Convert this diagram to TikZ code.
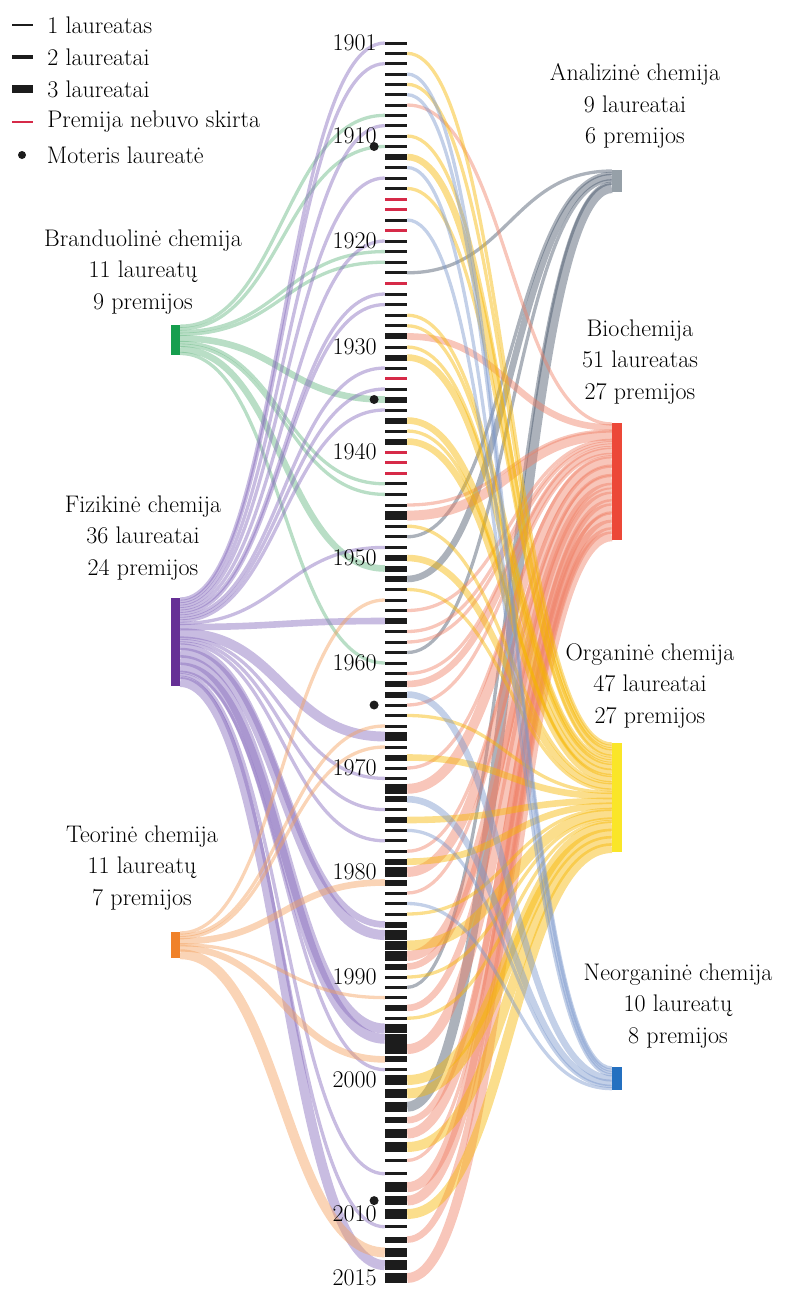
\documentclass[tikz,border=0pt]{standalone}
\usepackage{fontspec}
\usepackage{tikz}
\usetikzlibrary{positioning,backgrounds}

\definecolor{barcol}{RGB}{28,28,28}
\definecolor{nopremija}{RGB}{214,42,72}
\definecolor{branduolinecol}{RGB}{22,158,78}
\definecolor{fizikinecol}{RGB}{102,48,150}
\definecolor{teorinecol}{RGB}{240,130,42}
\definecolor{analizinecol}{RGB}{150,160,168}
\definecolor{biocol}{RGB}{236,72,56}
\definecolor{organinecol}{RGB}{250,230,40}
\definecolor{neorganinecol}{RGB}{36,112,192}
% flow colours (drawn see-through)
\definecolor{branduolineflow}{RGB}{99,182,128}
\definecolor{fizikineflow}{RGB}{133,106,188}
\definecolor{teorineflow}{RGB}{244,160,93}
\definecolor{analizineflow}{RGB}{70,85,105}
\definecolor{bioflow}{RGB}{239,128,102}
\definecolor{organineflow}{RGB}{246,182,0}
\definecolor{neorganineflow}{RGB}{122,151,204}

% #1 category node, #2 colour, #3 step per laureate, #4 year/laureates
\newcommand{\flowsleft}[4]{%
  \xdef\flowacc{0}%
  \foreach \yr/\n in {#4}{%
    \pgfmathsetmacro\flowoff{-(\flowacc+\n/2)*#3}%
    \pgfmathsetmacro\flowlw{\n*3.3}%
    \draw[flow, draw=#2, line width=\flowlw pt] ([yshift=\flowoff]#1.north east) .. controls +(100,0) and +(-100,0) .. (y\yr.west);
    \pgfmathsetmacro\flowacc{\flowacc+\n}\xdef\flowacc{\flowacc}%
  }%
}
\newcommand{\flowsright}[4]{%
  \xdef\flowacc{0}%
  \foreach \yr/\n in {#4}{%
    \pgfmathsetmacro\flowoff{-(\flowacc+\n/2)*#3}%
    \pgfmathsetmacro\flowlw{\n*3.3}%
    \draw[flow, draw=#2, line width=\flowlw pt] (y\yr.east) .. controls +(100,0) and +(-100,0) .. ([yshift=\flowoff]#1.north west);
    \pgfmathsetmacro\flowacc{\flowacc+\n}\xdef\flowacc{\flowacc}%
  }%
}

\begin{document}
\begin{tikzpicture}[x=1pt,y=-1pt,
	declare function={
		ya(\d)={32.7,136,241,347,452,558,663,768,872,977,1080,1214,1342}[int(\d)];
		yr(\t)=ya((\t-1900)/10)+mod(\t-1900,10)/10*(ya((\t-1900)/10+1)-ya((\t-1900)/10));
	},
	every node/.style={font=\fontsize{24}{31.5}\selectfont},
	yearbar/.style={rectangle, inner sep=0pt, minimum width=22pt},
	catbar/.style={rectangle, inner sep=0pt, minimum width=9pt},
	catlabel/.style={align=center, inner sep=0pt},
	yearlabel/.style={inner sep=0pt},
	woman/.style={circle, fill=barcol, inner sep=0pt, minimum size=9pt},
	legbar/.style={rectangle, inner sep=0pt, minimum width=21pt, fill=barcol},
	legtext/.style={inner sep=0pt},
	flow/.style={opacity=0.45}
	]
\useasboundingbox (0,0) rectangle (790,1293);

% legend
\node[legbar, minimum height=2.7pt] (leg1) at (22.5,25) {};
\node[legtext] (leg1t) [right=14pt of leg1] {1 laureatas};
\node[legbar, minimum height=4.7pt] (leg2) at (22.5,57) {};
\node[legtext] (leg2t) [right=14pt of leg2] {2 laureatai};
\node[legbar, minimum height=7.3pt] (leg3) at (22.5,89) {};
\node[legtext] (leg3t) [right=14pt of leg3] {3 laureatai};
\node[legbar, minimum height=2.7pt, fill=nopremija] (leg0) at (22.5,122) {};
\node[legtext] (leg0t) [right=14pt of leg0] {Premija nebuvo skirta};
\node[woman, minimum size=8pt] (legw) at (22,155) {};
\node[legtext] (legwt) [right=20.5pt of legw] {Moteris laureatė};

% year bars, 0 = no prize
\foreach \n [count=\i from 1901] in {
	1,1,1,1,1,1,1,1,1,1, 1,2,1,1,1,0,0,1,0,1,
	1,1,1,0,1,1,1,1,2,1, 2,1,0,1,2,1,2,1,2,0,
	0,0,1,1,1,3,1,1,1,2, 2,2,1,1,1,2,1,1,1,1,
	1,2,2,1,1,1,3,1,2,1, 1,3,2,1,2,1,1,1,2,3,
	2,1,1,1,2,3,3,3,2,1, 1,1,2,1,3,3,3,2,1,3,
	3,3,2,3,3,1,1,3,3,3, 1,2,3,3,3}{
	\pgfmathsetmacro\yy{yr(\i)}
	\pgfmathsetmacro\th{{3,3,6,9.5}[\n]}
	\ifnum\n=0 \def\bc{nopremija}\else\def\bc{barcol}\fi
	\node[yearbar, fill=\bc, minimum height=\th pt] (y\i) at (396,\yy) {};
}

\foreach \yr in {1901,1910,1920,1930,1940,1950,1960,1970,1980,1990,2000,2010,2015}
	\node[yearlabel] (lab\yr) [left=8pt of y\yr] {\yr};

\foreach \yr in {1911,1935,1964,2009}
	\node[woman] (w\yr) [left=6pt of y\yr] {};

% categories
\node[catbar, fill=branduolinecol, minimum height=30pt] (branduoline) at (175.5,340) {};
\node[catbar, fill=fizikinecol, minimum height=88pt] (fizikine) at (175.5,642) {};
\node[catbar, fill=teorinecol, minimum height=26pt] (teorine) at (175.5,945) {};
\node[catbar, fill=analizinecol, minimum height=22pt, minimum width=10pt] (analizine) at (617,181) {};
\node[catbar, fill=biocol, minimum height=117pt, minimum width=10pt] (biochemija) at (617,481.5) {};
\node[catbar, fill=organinecol, minimum height=109pt, minimum width=10pt] (organine) at (617,797.5) {};
\node[catbar, fill=neorganinecol, minimum height=23pt, minimum width=10pt] (neorganine) at (617,1078.5) {};

\node[catlabel] (branduolinelab) at (143,272) {Branduolinė chemija\\11 laureatų\\9 premijos};
\node[catlabel] (fizikinelab) at (143,538) {Fizikinė chemija\\36 laureatai\\24 premijos};
\node[catlabel] (teorinelab) at (142,868) {Teorinė chemija\\11 laureatų\\7 premijos};
\node[catlabel] (analizinelab) at (635,106) {Analizinė chemija\\9 laureatai\\6 premijos};
\node[catlabel] (biochemijalab) at (640,362) {Biochemija\\51 laureatas\\27 premijos};
\node[catlabel] (organinelab) at (650,686) {Organinė chemija\\47 laureatai\\27 premijos};
\node[catlabel] (neorganinelab) at (678,1006) {Neorganinė chemija\\10 laureatų\\8 premijos};

\begin{pgfonlayer}{background}
\flowsleft{branduoline}{branduolineflow}{2.73}{1908/1,1911/1,1921/1,1922/1,1935/2,1943/1,1944/1,1951/2,1960/1}
\flowsleft{fizikine}{fizikineflow}{2.44}{1901/1,1903/1,1909/1,1914/1,1920/1,1925/1,1926/1,1932/1,1934/1,1936/1,1949/1,1956/2,1967/3,1971/1,1974/1,1977/1,1985/2,1986/3,1995/3,1996/3,1999/1,2007/1,2011/1,2014/3}
\flowsleft{teorine}{teorineflow}{2.36}{1954/1,1966/1,1968/1,1981/2,1992/1,1998/2,2013/3}
\flowsright{analizine}{analizineflow}{2.44}{1923/1,1948/1,1952/2,1959/1,1991/1,2002/3}
\flowsright{biochemija}{bioflow}{2.34}{1907/1,1929/2,1945/1,1946/3,1955/1,1957/1,1958/1,1961/1,1962/2,1964/1,1970/1,1972/3,1978/1,1980/3,1982/1,1988/3,1989/2,1993/2,1997/3,2003/2,2004/3,2006/1,2008/3,2009/3,2012/2,2015/3}
\flowsright{organine}{organineflow}{2.42}{1902/1,1905/1,1910/1,1912/2,1915/1,1927/1,1928/1,1930/1,1931/2,1937/2,1938/1,1939/2,1947/1,1950/2,1953/1,1965/1,1969/2,1975/2,1979/2,1984/1,1987/3,1990/1,1994/1,2000/3,2001/3,2005/3,2010/3}
\flowsright{neorganine}{neorganineflow}{2.3}{1904/1,1906/1,1913/1,1918/1,1963/2,1973/2,1976/1,1983/1}
\end{pgfonlayer}
\end{tikzpicture}
\end{document}
